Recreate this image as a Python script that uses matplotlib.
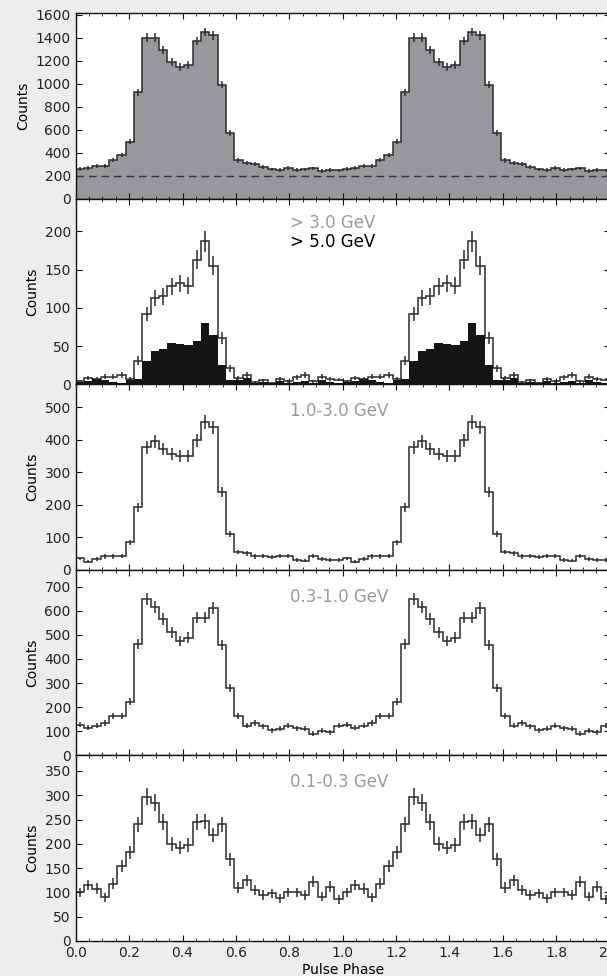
import numpy as np
import matplotlib
matplotlib.use("Agg")
import matplotlib.pyplot as plt
from matplotlib.ticker import MultipleLocator

# Pulse profiles: counts per phase bin (32 bins over one rotation)
counts_all = [260, 268, 280, 286, 335, 379, 496, 924, 1400, 1400, 1290, 1187,
              1143, 1164, 1371, 1450, 1420, 992, 569, 332, 312, 297, 277, 254,
              248, 268, 248, 254, 262, 239, 248, 245]
counts_gt3 = [4, 8, 7, 10, 10, 12, 7, 31, 92, 113, 115, 128,
              132, 129, 163, 187, 155, 60, 21, 8, 12, 3, 5, 2,
              7, 4, 9, 12, 4, 10, 7, 6]
counts_gt5 = [3, 4, 7, 5, 3, 2, 6, 7, 31, 44, 46, 54,
              53, 51, 57, 80, 65, 25, 6, 5, 8, 2, 3, 1,
              4, 2, 3, 4, 2, 5, 3, 2]
counts_1_3 = [35, 25, 33, 41, 41, 43, 84, 192, 377, 395, 372, 356,
              349, 349, 399, 454, 438, 238, 110, 55, 51, 41, 43, 38,
              43, 43, 31, 28, 43, 33, 31, 30]
counts_03_1 = [128, 114, 124, 135, 165, 165, 223, 462, 648, 617, 565, 510,
               475, 489, 572, 572, 610, 457, 280, 165, 124, 135, 121, 105,
               110, 124, 113, 110, 90, 103, 96, 124]
counts_01_03 = [100, 115, 108, 90, 118, 155, 183, 240, 297, 285, 245, 200,
                192, 198, 245, 246, 218, 240, 168, 110, 125, 105, 95, 98,
                88, 100, 100, 95, 122, 91, 112, 86]

background_level = 200
band_labels = ["1.0-3.0 GeV", "0.3-1.0 GeV", "0.1-0.3 GeV"]
y_limits = [1615, 243, 571, 770, 382]
y_steps = [200, 50, 100, 100, 50]

n_cycles = 2
n_bins = len(counts_all)
edges = np.linspace(0, n_cycles, n_cycles * n_bins + 1)
centers = 0.5 * (edges[:-1] + edges[1:])


def two_cycles(vals):
    return np.tile(np.asarray(vals, dtype=float), n_cycles)


plt.rcParams.update({
    "font.family": ["DejaVu Sans"],
    "font.size": 10,
    "xtick.direction": "in",
    "ytick.direction": "in",
    "xtick.top": True,
    "ytick.right": True,
    "xtick.major.size": 4,
    "ytick.major.size": 4,
    "xtick.minor.size": 2,
    "axes.linewidth": 1.0,
    "text.color": "#222222",
    "xtick.color": "#111111",
    "ytick.color": "#111111",
    "xtick.labelcolor": "#222222",
    "ytick.labelcolor": "#222222",
})

W, H = 607, 976
fig = plt.figure(figsize=(W / 100, H / 100), dpi=100, facecolor="#ededed")

left = 75.7 / W
width = 534.0 / W
top_px, bottom_px = 13.0, 941.0
panel_h = (bottom_px - top_px) / 5

axes = []
for i in range(5):
    y0 = 1 - (top_px + (i + 1) * panel_h) / H
    ax = fig.add_axes([left, y0, width, panel_h / H])
    ax.set_facecolor("white")
    axes.append(ax)

line_kw = dict(color="#2b2b2b", lw=1.1)
err_kw = dict(fmt="none", ecolor="#2b2b2b", elinewidth=1.1, capsize=0)
gray_txt = "#9a9a9a"


def profile(ax, vals, fill=None):
    v = two_cycles(vals)
    if fill is not None:
        ax.stairs(v, edges, fill=True, color=fill, baseline=0)
    ax.stairs(v, edges, baseline=None, **line_kw)
    ax.errorbar(centers, v, yerr=np.sqrt(v), **err_kw)


# All energies
profile(axes[0], counts_all, fill="#98989c")
axes[0].axhline(background_level, color="#333333", lw=1.0, ls=(0, (5.5, 3.5)))

# High-energy bands
ax = axes[1]
v3 = two_cycles(counts_gt3)
ax.stairs(v3, edges, fill=True, color="white", baseline=0)
ax.stairs(v3, edges, baseline=None, **line_kw)
ax.stairs(two_cycles(counts_gt5), edges, fill=True, color="#151515", baseline=0)
ax.errorbar(centers, v3, yerr=np.sqrt(v3), **err_kw)
ax.text(0.401, 0.84, "> 3.0 GeV", transform=ax.transAxes, color=gray_txt,
        fontsize=12, ha="left", va="baseline")
ax.text(0.401, 0.74, "> 5.0 GeV", transform=ax.transAxes, color="black",
        fontsize=12, ha="left", va="baseline")

for ax, vals, lab in zip(axes[2:], [counts_1_3, counts_03_1, counts_01_03],
                         band_labels):
    profile(ax, vals)
    ax.text(0.401, 0.828, lab, transform=ax.transAxes, color=gray_txt,
            fontsize=12, ha="left", va="baseline")

for i, ax in enumerate(axes):
    ax.set_xlim(0, n_cycles)
    ax.set_ylim(0, y_limits[i])
    ax.yaxis.set_major_locator(MultipleLocator(y_steps[i]))
    ax.xaxis.set_major_locator(MultipleLocator(0.2))
    ax.xaxis.set_minor_locator(MultipleLocator(0.05))
    ax.tick_params(which="minor", top=True, direction="in")
    ax.set_ylabel("Counts", fontsize=10, labelpad=3.5)
    if i < 4:
        ax.tick_params(labelbottom=False)
    for s in ax.spines.values():
        s.set_color("#111111")

axes[-1].set_xlabel("Pulse Phase", fontsize=10, labelpad=2.5)

fig.savefig("out.png", dpi=100, facecolor=fig.get_facecolor())
